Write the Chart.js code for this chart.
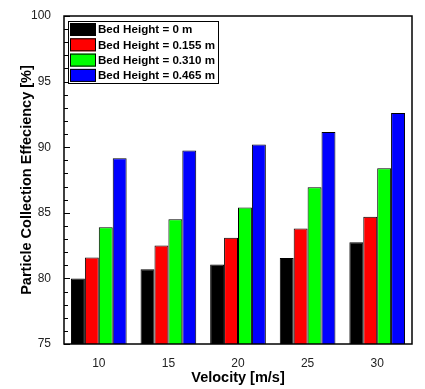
<!DOCTYPE html>
<html>
<head>
<meta charset="utf-8">
<script src="https://cdn.jsdelivr.net/npm/chart.js@4"></script>
<style>
  html, body { margin: 0; padding: 0; background: #fff; }
  #wrap { width: 425px; height: 389px; }
</style>
</head>
<body>
<div id="wrap"><canvas id="grafica"></canvas></div>
<script>
const velocidades = ["10", "15", "20", "25", "30"];
const alturas = ["Bed Height = 0 m", "Bed Height = 0.155 m", "Bed Height = 0.310 m", "Bed Height = 0.465 m"];
const cama0 = [80.0, 80.7, 81.05, 81.55, 82.75];
const cama155 = [81.6, 82.5, 83.1, 83.8, 84.7];
const cama310 = [83.9, 84.5, 85.4, 86.95, 88.4];
const cama465 = [89.15, 89.75, 90.2, 91.15, 92.6];
const colores = ["#000000", "#ff0000", "#00ff00", "#0000ff"];
const yTicks = [75, 80, 85, 90, 95, 100];

const FUENTE = "'Liberation Sans', Arial, sans-serif";
Chart.defaults.font.family = FUENTE;
Chart.defaults.color = "#222";

// marco, ticks hacia adentro y leyenda dentro del área
const marcoPlugin = {
  id: "marco",
  afterDraw(chart) {
    const { ctx, chartArea: a, scales } = chart;
    const y = scales.y;
    ctx.save();
    ctx.strokeStyle = "#000";
    ctx.lineWidth = 1;
    for (let v = yTicks[0]; v <= yTicks[yTicks.length - 1]; v++) {
      const py = Math.round(y.getPixelForValue(v)) + 0.5;
      const len = v % 5 === 0 ? 6 : 4;
      ctx.beginPath();
      ctx.moveTo(a.left, py);
      ctx.lineTo(a.left + len, py);
      ctx.stroke();
    }
    ctx.lineWidth = 1.5;
    ctx.strokeRect(a.left, a.top, a.right - a.left, a.bottom - a.top);

    // leyenda
    const lx = 68, ly = 21, lw = 150, lh = 62;
    ctx.lineWidth = 1;
    ctx.fillStyle = "#fff";
    ctx.fillRect(lx, ly, lw, lh);
    ctx.strokeRect(lx + 0.5, ly + 0.5, lw, lh);
    ctx.font = "bold 11.6px " + FUENTE;
    ctx.textBaseline = "middle";
    chart.data.datasets.forEach((ds, i) => {
      const ry = ly + 2 + i * 15.3;
      ctx.fillStyle = ds.backgroundColor;
      ctx.fillRect(70, ry, 26, 13);
      ctx.strokeStyle = "#000";
      ctx.strokeRect(70.5, ry + 0.5, 25, 12);
      ctx.fillStyle = "#000";
      ctx.fillText(ds.label, 98, ry + 7);
    });
    ctx.restore();
  },
};

new Chart(document.getElementById("grafica"), {
  type: "bar",
  data: {
    labels: velocidades,
    datasets: [cama0, cama155, cama310, cama465].map((d, i) => ({
      label: alturas[i],
      data: d,
      backgroundColor: colores[i],
      borderColor: "#000",
      borderWidth: 1,
      categoryPercentage: 0.8,
      barPercentage: 1.0,
    })),
  },
  options: {
    responsive: true,
    maintainAspectRatio: false,
    animation: false,
    layout: { padding: { top: 16, right: 13, left: 0, bottom: 2 } },
    plugins: { legend: { display: false }, tooltip: { enabled: false } },
    scales: {
      x: {
        grid: { display: false },
        border: { display: false },
        ticks: { font: { size: 12 }, padding: 4, color: "#222" },
        title: {
          display: true,
          text: "Velocity [m/s]",
          font: { size: 14.5, weight: "bold" },
          color: "#000",
          padding: { top: 5, bottom: 0 },
        },
        afterFit(s) { s.height = 43; },
      },
      y: {
        min: 75,
        max: 100,
        grid: { display: false },
        border: { display: false },
        afterBuildTicks(s) { s.ticks = yTicks.map(v => ({ value: v })); },
        ticks: { font: { size: 12 }, padding: 5, color: "#222" },
        title: {
          display: true,
          text: "Particle Collection Effeciency [%]",
          font: { size: 14.5, weight: "bold" },
          color: "#000",
          padding: { top: 18, bottom: 0 },
        },
        afterFit(s) { s.width = 64; },
      },
    },
  },
  plugins: [marcoPlugin],
});
</script>
</body>
</html>
